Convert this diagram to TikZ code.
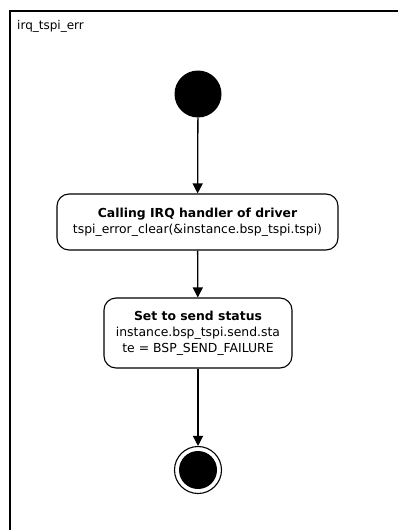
\documentclass[tikz,border=0pt]{standalone}
\usepackage{fontspec}
\setmainfont{DejaVu Sans}
\usetikzlibrary{arrows.meta, positioning}

\begin{document}
\begin{tikzpicture}[
    x=1pt, y=-1pt,
    >={Triangle[length=10pt, width=10pt]},
    statebox/.style={draw, rounded corners=12pt, line width=1.1pt, align=center, font=\fontsize{12.4}{16}\selectfont},
    flow/.style={->, line width=1.3pt},
]
    \useasboundingbox (0,0) rectangle (398,530);
    \draw[line width=1.4pt] (10,545) -- (10,11) -- (410,11);
    \node[anchor=west, inner sep=0pt, font=\fontsize{12}{14}\selectfont] (title) at (17,26) {irq\_tspi\_err};
    \node[circle, fill, minimum size=47pt, inner sep=0pt] (start) at (198,94) {};
    \node[statebox, minimum width=281pt, minimum height=56pt] (irq) at (197.5,222) {
        \textbf{Calling IRQ handler of driver}\\
        tspi\_error\_clear(\&instance.bsp\_tspi.tspi)
    };
    \node[statebox, minimum width=188pt, minimum height=70pt] (status) at (198,333) {
        \textbf{Set to send status}\\
        instance.bsp\_tspi.send.sta\\
        te = BSP\_SEND\_FAILURE
    };
    \node[circle, draw, line width=1.1pt, minimum size=47pt, inner sep=0pt] (stop) at (198,470) {};
    \node[circle, fill, minimum size=38pt, inner sep=0pt] (stopdot) at (stop) {};
    \draw[flow] (start) -- (irq);
    \draw[flow] (irq) -- (status);
    \draw[flow] (status) -- (stop);
\end{tikzpicture}
\end{document}
